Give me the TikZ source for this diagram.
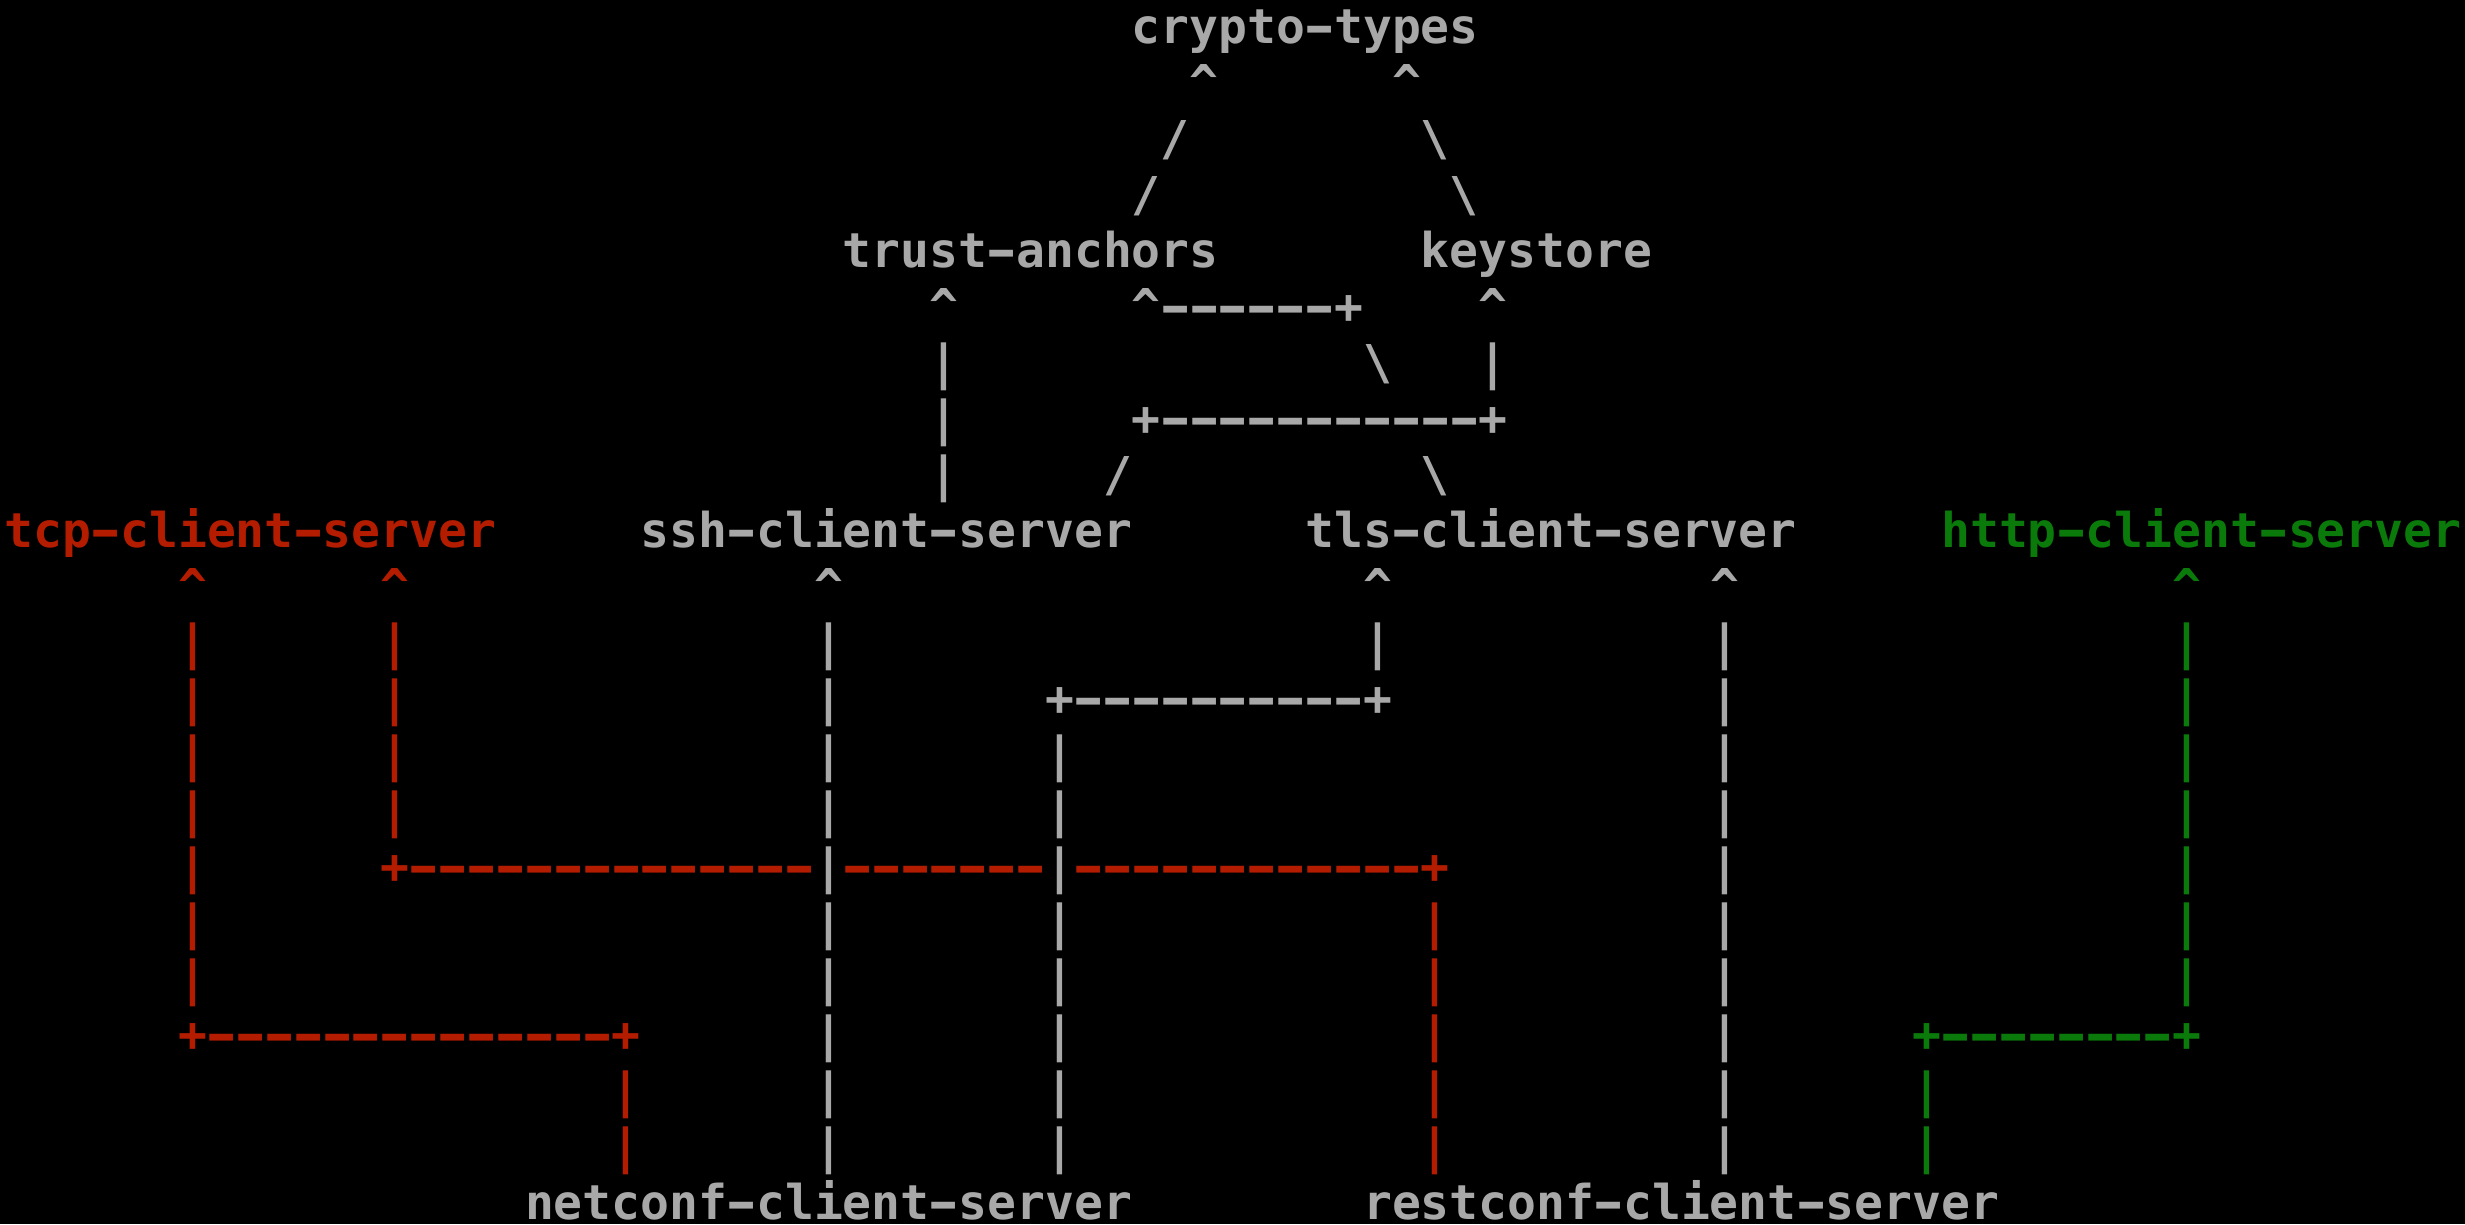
\documentclass[tikz,border=0pt]{standalone}
\usepackage{fontspec}
\usepackage{graphicx}
\setmonofont{DejaVu Sans Mono}
\definecolor{termgrey}{HTML}{A8A8A8}
\definecolor{termred}{HTML}{B41C00}
\definecolor{termgreen}{HTML}{0A7A0A}
\tikzset{ascii/.style={inner sep=0pt, outer sep=0pt, anchor=base west,
    font=\fontsize{12}{14}\selectfont\ttfamily\bfseries}}
\def\glyphs(#1,#2)[#3]#4{\node[ascii,text=#3] at (#1,{-#2-0.246}) {#4};}
\def\caret{\symbol{94}}
\def\bslash{\symbol{92}}
\def\hy{\makebox[0.602em][c]{\scalebox{1.6}[1]{-}}}
\def\dashes#1{\foreach \i in {1,...,#1}{\hy}}

\begin{document}
\begin{tikzpicture}[x=7.225pt, y=14pt]
		%%%%% START %%%%%
		\fill[black] (0,0.477) rectangle (85.29,-21.38);
		\useasboundingbox (0,0.477) rectangle (85.29,-21.38);
		\begin{scope}[xshift=1.2pt, yshift=-0.8pt]
		
		\node[ascii,text=termgrey] (crypto) at (39,-0.246) {crypto\hy types};
		\glyphs(41,1)[termgrey]{\caret} \glyphs(48,1)[termgrey]{\caret}
		\glyphs(40,2)[termgrey]{/} \glyphs(49,2)[termgrey]{\bslash}
		\glyphs(39,3)[termgrey]{/} \glyphs(50,3)[termgrey]{\bslash}
		
		\node[ascii,text=termgrey] (trust) at (29,-4.246) {trust\hy anchors};
		\node[ascii,text=termgrey] (keystore) at (49,-4.246) {keystore};
		\glyphs(32,5)[termgrey]{\caret} \glyphs(39,5)[termgrey]{\caret\dashes{6}+} \glyphs(51,5)[termgrey]{\caret}
		\glyphs(47,6)[termgrey]{\bslash} \glyphs(51,6)[termgrey]{|}
		\glyphs(39,7)[termgrey]{+\dashes{11}+}
		\glyphs(38,8)[termgrey]{/} \glyphs(49,8)[termgrey]{\bslash}
		\foreach \r in {6,7,8} {\glyphs(32,\r)[termgrey]{|}}
		
		\node[ascii,text=termred] (tcp) at (0,-9.246) {tcp\hy client\hy server};
		\node[ascii,text=termgrey] (ssh) at (22,-9.246) {ssh\hy client\hy server};
		\node[ascii,text=termgrey] (tls) at (45,-9.246) {tls\hy client\hy server};
		\node[ascii,text=termgreen] (http) at (67,-9.246) {http\hy client\hy server};
		
		\glyphs(6,10)[termred]{\caret} \glyphs(13,10)[termred]{\caret}
		\glyphs(28,10)[termgrey]{\caret} \glyphs(47,10)[termgrey]{\caret}
		\glyphs(59,10)[termgrey]{\caret} \glyphs(75,10)[termgreen]{\caret}
		\glyphs(47,11)[termgrey]{|}
		\glyphs(36,12)[termgrey]{+\dashes{10}+}
		
		% vertical runs
		\foreach \r in {11,...,17} {\glyphs(6,\r)[termred]{|}}
		\foreach \r in {11,...,14} {\glyphs(13,\r)[termred]{|}}
		\foreach \r in {11,...,20} {\glyphs(28,\r)[termgrey]{|}}
		\foreach \r in {13,...,20} {\glyphs(36,\r)[termgrey]{|}}
		\foreach \r in {11,...,20} {\glyphs(59,\r)[termgrey]{|}}
		\foreach \r in {11,...,17} {\glyphs(75,\r)[termgreen]{|}}
		\foreach \r in {16,...,20} {\glyphs(49,\r)[termred]{|}}
		\foreach \r in {19,20} {\glyphs(21,\r)[termred]{|} \glyphs(66,\r)[termgreen]{|}}
		
		\glyphs(13,15)[termred]{+\dashes{14}}
		\glyphs(29,15)[termred]{\dashes{7}}
		\glyphs(37,15)[termred]{\dashes{12}+}
		\glyphs(6,18)[termred]{+\dashes{14}+}
		\glyphs(66,18)[termgreen]{+\dashes{8}+}
		
		\node[ascii,text=termgrey] (netconf) at (18,-21.246) {netconf\hy client\hy server};
		\node[ascii,text=termgrey] (restconf) at (47,-21.246) {restconf\hy client\hy server};
		\end{scope}
		%%%%% END %%%%%
\end{tikzpicture}
\end{document}
